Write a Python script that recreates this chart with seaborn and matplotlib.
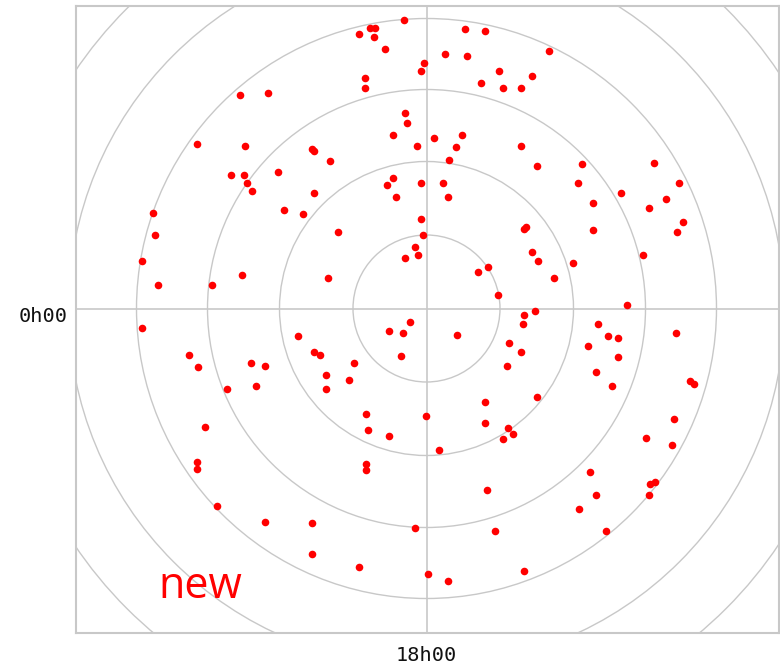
import matplotlib
matplotlib.use("Agg")
import matplotlib.pyplot as plt
import matplotlib.transforms as mtransforms
from matplotlib.patches import Circle
import numpy as np
import pandas as pd
import seaborn as sns

# Star positions in projected chart units (x to the right, y upward, pole at 0,0)
x_vals = [-23, -68, -57, -52, -53, -42, -62, -62, -3, -6, 18, 40, 38, 58, 122, 72, 54, 76, 94, 105,
          -187, -159, -230, -182, -115, -113, -97, -196, -183, -180, -175, -149, -113, -143, -124,
          -274, -272, -285, -269, -285, -215, -185,
          -22, -20, -34, 7, 35, 29, -10, 22, 94, 110, 155, 151, 166, 194, 227, 252, 239, 222,
          -34, -40, -6, 16, -31, 21,
          -6, -4, -12, -9, -22, -89, -99, 51, 61, 71, 97, 99, 105, 111, 108, 97, 96,
          -17, -38, -24, 30, -26, -113, -107, -73, -101, -78, -101, 82, 94, 80, 110, 58,
          -61, -1, 58, 81,
          256, 250, 166, 146, 127, 216, 200, 171, 181, 191, 161, 191, 169, 185, 249, 263, 267, 247,
          -129, -238, -229, -176, -162, -171, -200, -222, -230, -230, -210, -162, -115, -115,
          -59, -38, -61, -61, 12, 76, 86, 60, -12, 68, -68, 1, 21, 97,
          219, 245, 163, 169, 152, 179, 223, 228, 222]
y_vals = [289, 275, 281, 281, 272, 260, 231, 221, 246, 238, 255, 253, 280, 278, 258, 238, 226, 221, 221, 233,
          214, 216, 165, 163, 160, 158, 148, 134, 134, 126, 118, 137, 116, 99, 95,
          96, 74, 48, 24, -19, 24, 34,
          196, 186, 174, 171, 174, 162, 163, 149, 163, 143, 145, 126, 106, 116, 146, 126, 110, 101,
          131, 124, 126, 126, 112, 112,
          90, 74, 62, 54, 51, 77, 31, 37, 42, 14, 80, 82, 57, 48, -2, -6, -15,
          -13, -22, -24, -26, -47, -43, -46, -54, -66, -71, -80, -34, -43, -57, -88, -93,
          -105, -107, -114, -119,
          87, 77, 79, 46, 31, 54, 4, -15, -27, -29, -37, -48, -63, -77, -24, -72, -75, -110,
          -27, -46, -58, -54, -57, -77, -80, -118, -153, -160, -197, -213, -214, -245,
          -121, -127, -155, -161, -141, -130, -125, -181, -219, -222, -258, -265, -272, -262,
          -129, -136, -163, -186, -200, -222, -175, -173, -186]

# Declination circles (chart units) and hour-angle labels
circle_radii = [73.5, 147, 219, 290, 358, 424]
x_tick_labels = ["18h00"]
y_tick_labels = ["0h00"]
annotation = "new"

df = pd.DataFrame({"x": x_vals, "y": y_vals})

fig = plt.figure(figsize=(7.8, 6.64), dpi=100)
W, H = 780, 664
left, right, top, bottom = 75.5, 779, 5.5, 632.5
ax = fig.add_axes([left / W, (H - bottom) / H, (right - left) / W, (bottom - top) / H])

cx, cy = 426.5, 308.5
ax.set_xlim(left - cx, right - cx)
ax.set_ylim(cy - bottom, cy - top)

grid_col = "#c8c8c8"
for r in circle_radii:
    ax.add_patch(Circle((0, 0), r, fill=False, edgecolor=grid_col, linewidth=1.0, zorder=1))
ax.axhline(0, color=grid_col, linewidth=1.2, zorder=1)
ax.axvline(0, color=grid_col, linewidth=1.2, zorder=1)

sns.scatterplot(data=df, x="x", y="y", color="#ff0000", s=30, linewidth=0, ax=ax, zorder=3, legend=False)

for s in ax.spines.values():
    s.set_color(grid_col)
    s.set_linewidth(1.5)

ax.set_xlabel("")
ax.set_ylabel("")
ax.set_xticks([0])
ax.set_xticklabels(x_tick_labels, family="DejaVu Sans Mono", fontsize=14.6, color="#111111")
ax.set_yticks([0])
ax.set_yticklabels(y_tick_labels, family="DejaVu Sans Mono", fontsize=14.6, color="#111111")
ax.tick_params(axis="x", length=0, pad=10)
ax.tick_params(axis="y", length=0, pad=6)
offset = mtransforms.ScaledTranslation(0, -6 / 100, fig.dpi_scale_trans)
for lab in ax.get_yticklabels():
    lab.set_transform(lab.get_transform() + offset)

ax.text((200 - left) / (right - left), (bottom - 598.3) / (bottom - top), annotation,
        transform=ax.transAxes, ha="center", va="baseline", color="#ff0000",
        fontsize=31, family="Open Sans", zorder=4)

fig.savefig("out.png", dpi=100)
